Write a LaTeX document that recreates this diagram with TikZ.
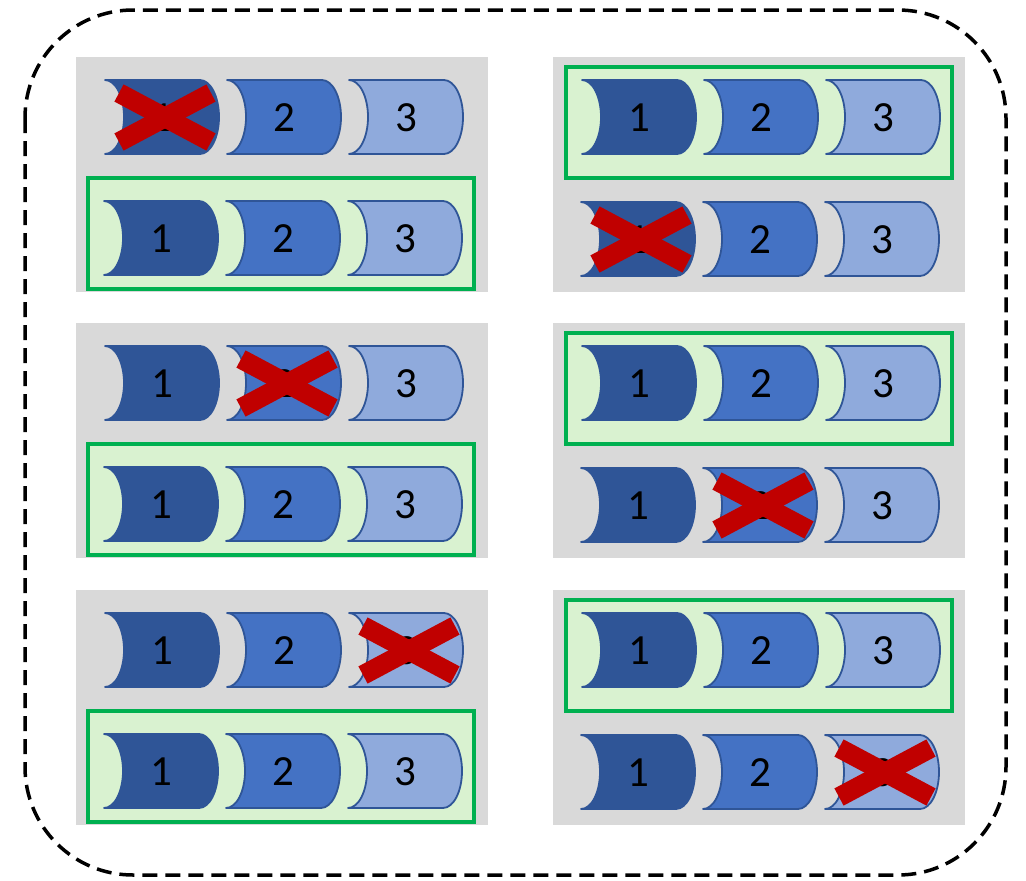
\documentclass[tikz,border=0pt]{standalone}
\usepackage{fontspec}
\setmainfont{Carlito}

\definecolor{panelgray}{HTML}{D9D9D9}
\definecolor{okgreen}{HTML}{00B050}
\definecolor{okfill}{HTML}{D9F2D0}
\definecolor{blueA}{HTML}{2F5597}
\definecolor{blueB}{HTML}{4472C4}
\definecolor{blueC}{HTML}{8FAADC}
\definecolor{edgeblue}{HTML}{2F5597}
\definecolor{failred}{HTML}{C00000}

\tikzset{
  panel/.style={fill=panelgray, draw=none},
  okbox/.style={fill=okfill, draw=okgreen, line width=3.5pt},
  cellshape/.style={draw=edgeblue, line width=1.8pt, line join=round},
  celltext/.style={font=\fontsize{43}{50}\selectfont, inner sep=0pt, text=black},
  failmark/.style={draw=failred, line width=19.5pt},
  outerframe/.style={draw=black, line width=3.5pt, dash pattern=on 15pt off 8pt, rounded corners=108pt}
}

% one storage cell: #1 left x, #2 top y, #3 fill colour, #4 digit, #5 node name
\newcommand{\drumcell}[5]{%
  \filldraw[cellshape, fill=#3] ({#1},{#2}) -- ++(95,0)
     arc[start angle=-90, end angle=90, x radius=19, y radius=37]
     -- ++(-95,0)
     arc[start angle=90, end angle=-90, x radius=19, y radius=37] -- cycle;
  \node[celltext] (#5) at ({#1+57},{#2+38}) {#4};
}

% red cross over a failed cell, placed from the cell's label node
\newcommand{\crossout}[1]{%
  \draw[failmark] ([shift={(-43,-25)}]#1.center) -- ([shift={(49,24)}]#1.center);
  \draw[failmark] ([shift={(-43,24)}]#1.center) -- ([shift={(49,-25)}]#1.center);
}

\begin{document}
\begin{tikzpicture}[x=1pt,y=-1pt]
\useasboundingbox (0,0) rectangle (1026,881);
\fill[white] (0,0) rectangle (1026,881);

% dashed outer boundary
\draw[outerframe] (25,10) rectangle (1006,875);

% left column: faulty row on top, intact copy framed below
\foreach \r/\gy in {1/57, 2/323, 3/590} {
  \fill[panel] (76,\gy) rectangle ++(412,235);
  \filldraw[okbox] (88,\gy+121) rectangle ++(386,111);
  \foreach \k/\col in {1/blueA, 2/blueB, 3/blueC} {
    \drumcell{105+122*(\k-1)}{\gy+23}{\col}{\k}{lt-\r-\k}
    \drumcell{104+122*(\k-1)}{\gy+144}{\col}{\k}{lb-\r-\k}
  }
}

% right column: intact copy framed on top, faulty row below
\foreach \r/\gy in {1/57, 2/323, 3/590} {
  \fill[panel] (553,\gy) rectangle ++(412,235);
  \filldraw[okbox] (566,\gy+10) rectangle ++(386,111);
  \foreach \k/\col in {1/blueA, 2/blueB, 3/blueC} {
    \drumcell{582+122*(\k-1)}{\gy+23}{\col}{\k}{rt-\r-\k}
    \drumcell{581+122*(\k-1)}{\gy+145}{\col}{\k}{rb-\r-\k}
  }
}

% failed cells
\crossout{lt-1-1}
\crossout{lt-2-2}
\crossout{lt-3-3}
\crossout{rb-1-1}
\crossout{rb-2-2}
\crossout{rb-3-3}
\end{tikzpicture}
\end{document}
